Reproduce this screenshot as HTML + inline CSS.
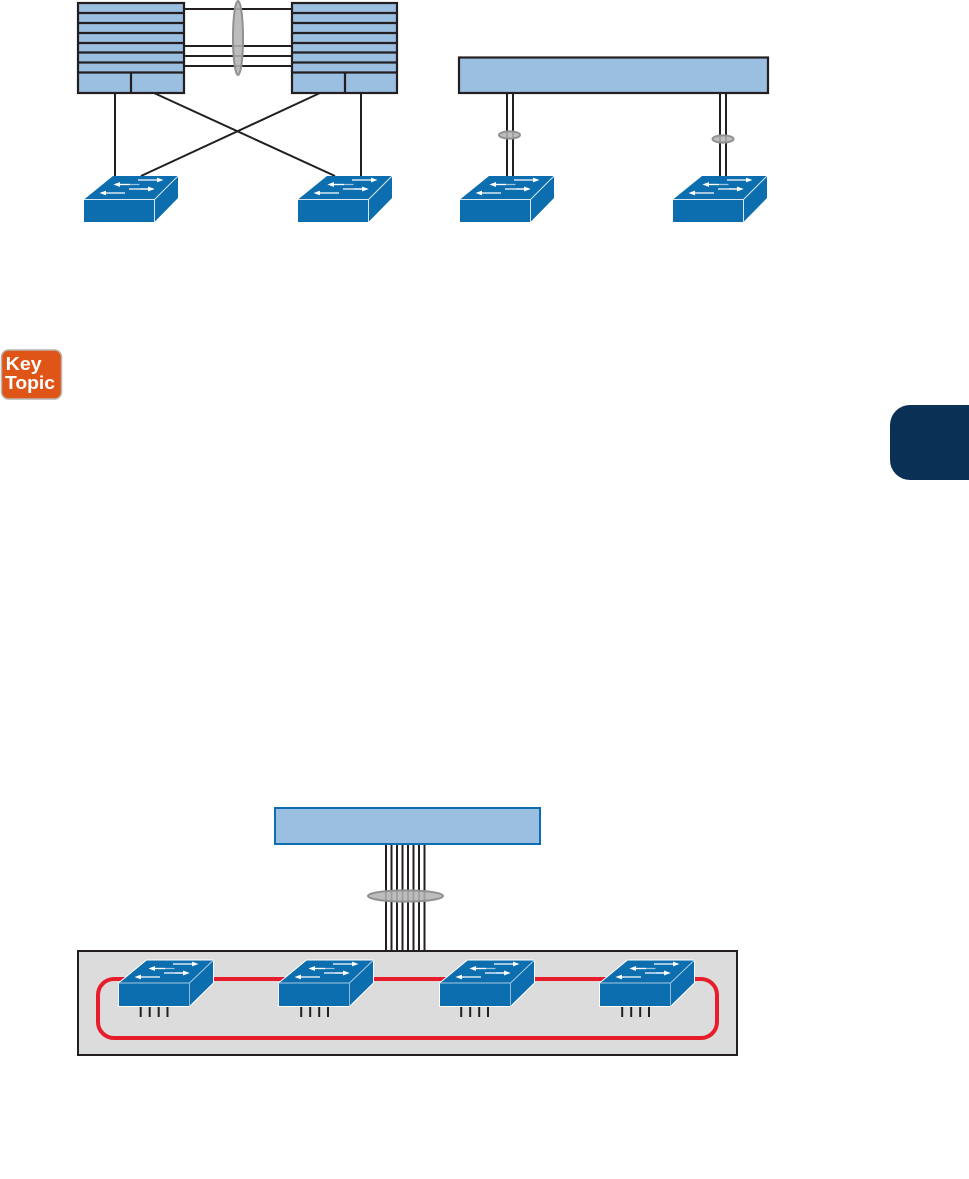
<!DOCTYPE html>
<html>
<head>
<meta charset="utf-8">
<style>
html,body{margin:0;padding:0;background:#fff}
svg{display:block}
</style>
</head>
<body>
<svg xmlns="http://www.w3.org/2000/svg" width="969" height="1179" viewBox="0 0 969 1179">
<defs>
  <g id="arrows" stroke="none">
    <path d="M54 3.4H73V1.6L79.5 4 73 6.4V4.6H54Z" fill="#fff"/>
    <path d="M55.5 7.9H36V6.1L29.5 8.5 36 10.9V9.1H55.5Z" fill="#9cc3dd"/>
    <path d="M36 6.1L29.5 8.5 36 10.9V9.1H46V7.9H36Z" fill="#fff"/>
    <path d="M45 12.4H64V10.6L70.5 13 64 15.4V13.6H45Z" fill="#fff"/>
    <path d="M64 10.6L70.5 13 64 15.4V13.6H56V12.4H64Z" fill="#fff"/>
    <path d="M41 16.4H22V14.6L15.5 17 22 19.4V17.6H41Z" fill="#fff"/>
  </g>
  <g id="sw">
    <path d="M0 23.5L29 0H94V22L70.5 46H0Z" fill="#0c6eae"/>
    <path d="M0 23.5H70.5L94 0" fill="none" stroke="#d7e6f1" stroke-width="1"/>
    <path d="M70.5 23.5V46" stroke="#d7e6f1" stroke-width="1"/>
    <use href="#arrows"/>
  </g>
  <g id="swb">
    <path d="M0 23.5L28 .5H95V23.5L71 47H0Z" fill="#0c6eae" stroke="#fff" stroke-width="1"/>
    <path d="M0 23.5H71L95 .5" fill="none" stroke="#a9cbe1" stroke-width="1"/>
    <path d="M71 23.5V47" stroke="#8fbcd8" stroke-width="1"/>
    <use href="#arrows" transform="translate(.5,.5)"/>
  </g>
  <g id="ticks" stroke="#231f20" stroke-width="2">
    <path d="M22.7 0V10M31.7 0V10M40.7 0V10M49.5 0V10"/>
  </g>
</defs>

<!-- top-left links -->
<g stroke="#231f20" stroke-width="2" fill="none">
  <path d="M184 9H292M184 46H292M184 56H292M184 66H292"/>
  <path d="M115 93V176M361 93V176"/>
  <path d="M154 93L335 176M320 93L141 176"/>
</g>
<ellipse cx="238" cy="38" rx="5" ry="37" fill="#b4b4b4" fill-opacity=".88" stroke="#919191" stroke-width="2"/>

<g stroke="#231f20" stroke-width="2.2">
  <rect x="78" y="3" width="106" height="90" fill="#9bbfe0"/>
  <path d="M78 13H184M78 23H184M78 33H184M78 43H184M78 52.5H184M78 62.5H184M78 72.5H184M131 72.5V93" fill="none"/>
  <rect x="292" y="3" width="105" height="90" fill="#9bbfe0"/>
  <path d="M292 13H397M292 23H397M292 33H397M292 43H397M292 52.5H397M292 62.5H397M292 72.5H397M345 72.5V93" fill="none"/>
</g>

<use href="#sw" x="84" y="176"/>
<use href="#sw" x="298" y="176"/>

<!-- top-right -->
<g stroke="#231f20" stroke-width="2" fill="none">
  <path d="M507 93V176M513 93V176M720 93V176M726 93V176"/>
</g>
<rect x="459" y="57.5" width="309" height="35.5" fill="#9bbfe0" stroke="#231f20" stroke-width="2.2"/>
<ellipse cx="509.5" cy="135" rx="10.5" ry="3.6" fill="#b4b4b4" fill-opacity=".88" stroke="#919191" stroke-width="2"/>
<ellipse cx="723" cy="139" rx="10.5" ry="3.6" fill="#b4b4b4" fill-opacity=".88" stroke="#919191" stroke-width="2"/>
<use href="#sw" x="460" y="176"/>
<use href="#sw" x="673" y="176"/>

<!-- Key Topic -->
<rect x="1.5" y="350" width="60" height="49" rx="7" ry="7" fill="#df5518" stroke="#b9b4ae" stroke-width="1.5"/>
<text x="5.7" y="370" textLength="36" lengthAdjust="spacingAndGlyphs" font-family="'Liberation Sans',sans-serif" font-weight="700" font-size="18" fill="#fff">Key</text>
<text x="5" y="389" textLength="50" lengthAdjust="spacingAndGlyphs" font-family="'Liberation Sans',sans-serif" font-weight="700" font-size="18" fill="#fff">Topic</text>

<!-- navy tab -->
<path d="M969 405H910A20 20 0 0 0 890 425V460A20 20 0 0 0 910 480H969Z" fill="#0a3056"/>

<!-- bottom -->
<g stroke="#231f20" stroke-width="2" fill="none">
  <path d="M386 845V951M391.5 845V951M397 845V951M402.5 845V951M408 845V951M413.5 845V951M419 845V951M424.5 845V951"/>
</g>
<rect x="275" y="808" width="265" height="36" fill="#9bbfe0" stroke="#0c6eae" stroke-width="2"/>
<ellipse cx="405.5" cy="896" rx="37.5" ry="5.6" fill="#b4b4b4" fill-opacity=".88" stroke="#919191" stroke-width="2"/>

<rect x="78" y="951" width="659" height="104" fill="#dcdcdc" stroke="#231f20" stroke-width="2"/>
<rect x="98" y="979" width="619" height="59" rx="16" ry="16" fill="none" stroke="#e71d2b" stroke-width="4"/>

<use href="#swb" x="118.5" y="959.5"/>
<use href="#swb" x="278.5" y="959.5"/>
<use href="#swb" x="439.5" y="959.5"/>
<use href="#swb" x="599.5" y="959.5"/>
<use href="#ticks" x="118" y="1007"/>
<use href="#ticks" x="278.5" y="1007"/>
<use href="#ticks" x="438.5" y="1007"/>
<use href="#ticks" x="599.5" y="1007"/>
</svg>
</body>
</html>
